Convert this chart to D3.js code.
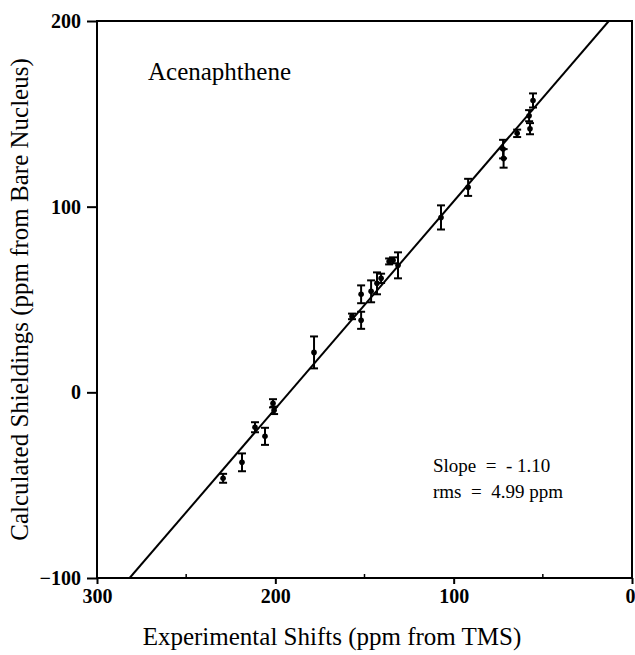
<!DOCTYPE html>
<html>
<head>
<meta charset="utf-8">
<script src="https://cdn.jsdelivr.net/npm/d3@7"></script>
<style>
  html, body { margin: 0; padding: 0; background: #fff; }
  svg { display: block; }
  text { font-family: "Liberation Serif", "Times New Roman", serif; fill: #000; }
</style>
</head>
<body>
<div id="chart"></div>
<script>
// Acenaphthene: calculated shieldings vs experimental shifts, with error bars

const expShift = [229.3, 218.7, 211.4, 205.8, 201.3, 200.7, 178.3, 157.0, 151.9, 151.9,
  146.3, 143.0, 140.7, 136.2, 134.0, 131.2, 107.1, 91.9, 72.3, 72.0, 64.4, 57.7, 57.2, 55.5];
const calcShield = [-46.3, -37.7, -18.8, -23.7, -5.9, -9.7, 21.5, 40.9, 52.8, 38.8,
  54.4, 58.7, 61.4, 70.5, 71.1, 68.4, 94.2, 110.4, 131.0, 126.0, 139.5, 149.0, 142.0, 157.2];
const errBar = [2.4, 4.8, 2.7, 4.6, 2.2, 2.0, 8.6, 1.5, 4.8, 4.6,
  5.9, 5.9, 2.5, 1.6, 1.6, 7.0, 6.5, 4.6, 5.0, 5.0, 2.0, 3.0, 3.0, 3.8];

// fitted line end points (slope -1.10)
const fitX = [281.7, 13.0];
const fitY = [-100, 200];

const xTicks = [300, 200, 100, 0];
const xMinor = [250, 150, 50];
const yTicks = [200, 100, 0, -100];

const width = 635, height = 655;
const MARGIN = { top: 21, right: 3, bottom: 77, left: 97 };
const innerW = width - MARGIN.left - MARGIN.right;
const innerH = height - MARGIN.top - MARGIN.bottom;

const svg = d3.select("#chart").append("svg")
  .attr("width", width).attr("height", height);
const g = svg.append("g").attr("transform", `translate(${MARGIN.left},${MARGIN.top})`);

const x = d3.scaleLinear().domain([300, 0]).range([0, innerW]);
const y = d3.scaleLinear().domain([-100, 200]).range([innerH, 0]);

svg.append("defs").append("clipPath").attr("id", "plot-clip")
  .append("rect").attr("width", innerW).attr("height", innerH);

// frame
g.append("rect").attr("width", innerW).attr("height", innerH)
  .attr("fill", "none").attr("stroke", "#000").attr("stroke-width", 2);

// bottom axis
const xAxis = g.append("g").attr("transform", `translate(0,${innerH})`)
  .call(d3.axisBottom(x).tickValues(xTicks).tickSize(6).tickPadding(5).tickFormat(d3.format("d")));
xAxis.select(".domain").remove();
xAxis.selectAll(".tick line").attr("stroke-width", 2);
xAxis.selectAll(".tick text").style("font-family", "Liberation Serif, serif")
  .style("font-size", "20px").style("font-weight", "bold");
// the "0" sits at the right edge; keep it inside the page
xAxis.selectAll(".tick text").filter((d) => d === 0).attr("text-anchor", "end").attr("dx", 3);
g.append("g").selectAll("line").data(xMinor).join("line")
  .attr("x1", (d) => x(d)).attr("x2", (d) => x(d))
  .attr("y1", innerH).attr("y2", innerH - 4)
  .attr("stroke", "#000").attr("stroke-width", 1.5);

// left axis
const yAxis = g.append("g")
  .call(d3.axisLeft(y).tickValues(yTicks).tickSize(10).tickPadding(6).tickFormat(d3.format("d")));
yAxis.select(".domain").remove();
yAxis.selectAll(".tick line").attr("stroke-width", 2);
yAxis.selectAll(".tick text").style("font-family", "Liberation Serif, serif")
  .style("font-size", "20px").style("font-weight", "bold");

// fit line
g.append("path")
  .attr("clip-path", "url(#plot-clip)")
  .attr("d", d3.line().x((d) => x(d[0])).y((d) => y(d[1]))(d3.zip(fitX, fitY)))
  .attr("fill", "none").attr("stroke", "#000").attr("stroke-width", 2);

// points with error bars
const pts = d3.range(expShift.length).map((i) => ({ x: expShift[i], y: calcShield[i], e: errBar[i] }));
const cap = 4;
const pg = g.append("g").attr("stroke", "#000").attr("stroke-width", 2);
pg.selectAll("line.bar").data(pts).join("line").attr("class", "bar")
  .attr("x1", (d) => x(d.x)).attr("x2", (d) => x(d.x))
  .attr("y1", (d) => y(d.y + d.e)).attr("y2", (d) => y(d.y - d.e));
pg.selectAll("line.cap-top").data(pts).join("line").attr("class", "cap-top")
  .attr("x1", (d) => x(d.x) - cap).attr("x2", (d) => x(d.x) + cap)
  .attr("y1", (d) => y(d.y + d.e)).attr("y2", (d) => y(d.y + d.e));
pg.selectAll("line.cap-bot").data(pts).join("line").attr("class", "cap-bot")
  .attr("x1", (d) => x(d.x) - cap).attr("x2", (d) => x(d.x) + cap)
  .attr("y1", (d) => y(d.y - d.e)).attr("y2", (d) => y(d.y - d.e));
g.append("g").selectAll("circle").data(pts).join("circle")
  .attr("cx", (d) => x(d.x)).attr("cy", (d) => y(d.y)).attr("r", 2.8).attr("fill", "#000");

// annotations
g.append("text").attr("x", 148 - MARGIN.left).attr("y", 80 - MARGIN.top)
  .style("font-size", "25px").text("Acenaphthene");
g.append("text").attr("x", 433 - MARGIN.left).attr("y", 472 - MARGIN.top)
  .style("font-size", "19px").attr("xml:space", "preserve").text("Slope  =  - 1.10");
g.append("text").attr("x", 433 - MARGIN.left).attr("y", 498 - MARGIN.top)
  .style("font-size", "19px").attr("xml:space", "preserve").text("rms  =  4.99 ppm");

// axis titles
svg.append("text").attr("x", 332).attr("y", 645)
  .attr("text-anchor", "middle").style("font-size", "25px")
  .text("Experimental Shifts (ppm from TMS)");
svg.append("text").attr("transform", `translate(28,${MARGIN.top + innerH / 2}) rotate(-90)`)
  .attr("text-anchor", "middle").style("font-size", "25px")
  .text("Calculated Shieldings (ppm from Bare Nucleus)");
</script>
</body>
</html>
